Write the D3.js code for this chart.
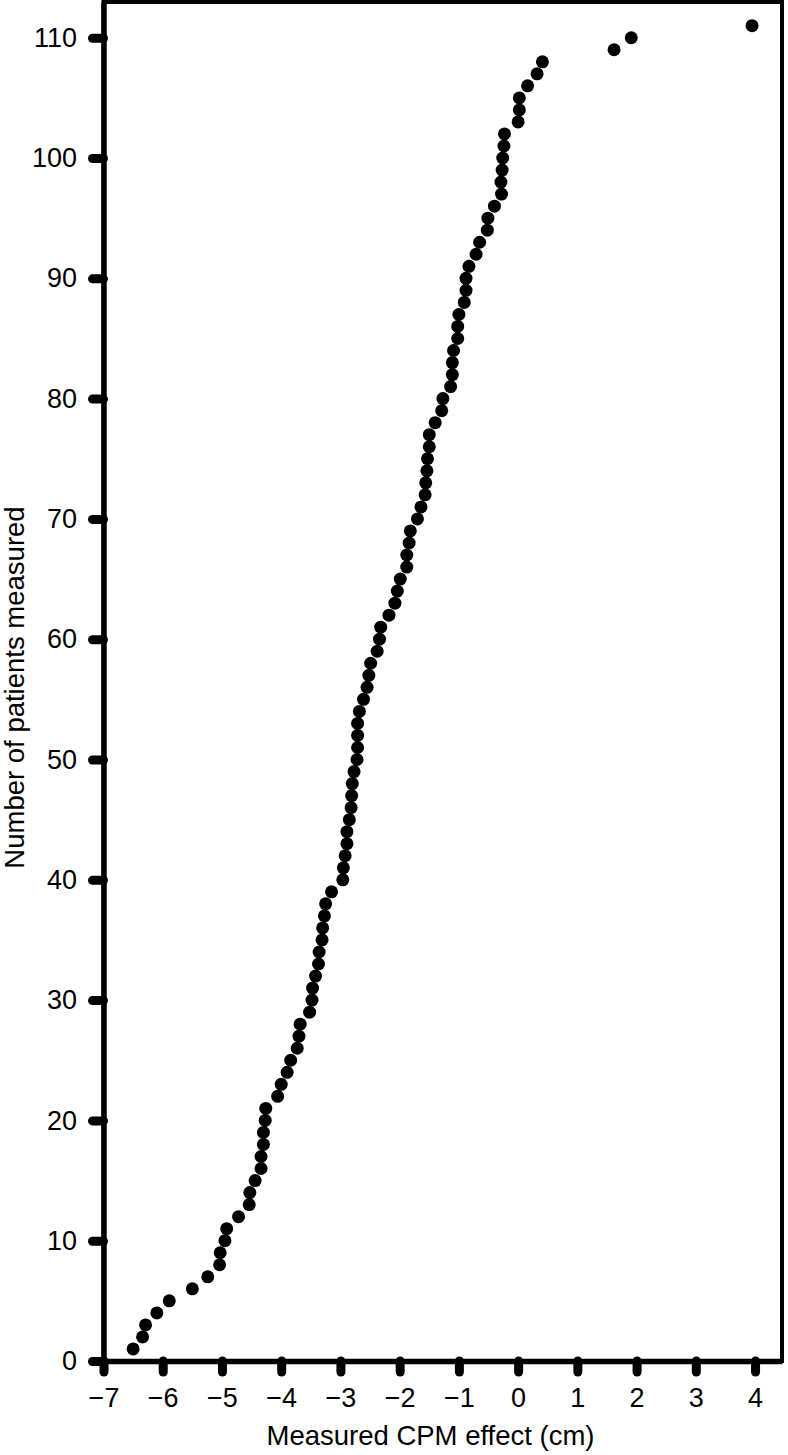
<!DOCTYPE html>
<html>
<head>
<meta charset="utf-8">
<script src="https://cdn.jsdelivr.net/npm/d3@7"></script>
<style>
    body { margin: 0; background: #fff; }
    text { font-family: "Liberation Sans", Arial, Helvetica, sans-serif; fill: #000; }
</style>
</head>
<body>
<svg id="chart"></svg>
<script>
// patient number (1..111) and measured CPM effect in cm
const patients = d3.range(1, 112);
const cpmEffect = [
    -6.50, -6.34, -6.29, -6.10, -5.89, -5.50, -5.24, -5.04, -5.03, -4.95,
    -4.92, -4.72, -4.54, -4.53, -4.44, -4.34, -4.34, -4.30, -4.30, -4.27,
    -4.26, -4.06, -4.00, -3.90, -3.84, -3.73, -3.70, -3.68, -3.52, -3.48,
    -3.47, -3.42, -3.37, -3.36, -3.31, -3.30, -3.27, -3.25, -3.15, -2.96,
    -2.95, -2.92, -2.89, -2.89, -2.85, -2.82, -2.81, -2.80, -2.77, -2.72,
    -2.71, -2.71, -2.71, -2.68, -2.61, -2.55, -2.52, -2.49, -2.38, -2.34,
    -2.32, -2.18, -2.08, -2.04, -1.99, -1.88, -1.88, -1.84, -1.82, -1.70,
    -1.64, -1.57, -1.56, -1.54, -1.53, -1.50, -1.50, -1.40, -1.29, -1.27,
    -1.14, -1.11, -1.11, -1.09, -1.02, -1.02, -1.00, -0.91, -0.88, -0.88,
    -0.83, -0.71, -0.65, -0.52, -0.51, -0.40, -0.28, -0.29, -0.27, -0.26,
    -0.24, -0.23, 0.00, 0.02, 0.02, 0.16, 0.32, 0.41, 1.62, 1.91,
    3.95
];
const xTicks = [-7, -6, -5, -4, -3, -2, -1, 0, 1, 2, 3, 4];
const yTicks = [0, 10, 20, 30, 40, 50, 60, 70, 80, 90, 100, 110];
const xLabel = "Measured CPM effect (cm)";
const yLabel = "Number of patients measured";

class DotPlot {
    margin = {
        top: 2, right: 6, bottom: 94, left: 103.5
    }

    constructor(svg, width=788, height=1455){
        this.svg = d3.select(svg);
        this.width = width - this.margin.left - this.margin.right;
        this.height = height - this.margin.top - this.margin.bottom;
        this.svg.attr("width", width).attr("height", height);
    }

    draw(){
        const data = patients.map((p, i) => ({n: p, x: cpmEffect[i]}));

        // axis extends a little beyond the last tick on the right and top
        const xScale = d3.scaleLinear().domain([-7, 4.455]).range([0, this.width]);
        const yScale = d3.scaleLinear().domain([0, 112.97]).range([this.height, 0]);

        const g = this.svg.append("g")
            .attr("transform", `translate(${this.margin.left}, ${this.margin.top})`);

        // frame (top and right sides)
        g.append("rect")
            .attr("x", 0)
            .attr("y", 0)
            .attr("width", this.width)
            .attr("height", this.height)
            .attr("fill", "none")
            .attr("stroke", "black")
            .attr("stroke-width", 4);

        const xAxis = g.append("g")
            .attr("transform", `translate(0, ${this.height})`)
            .call(d3.axisBottom(xScale)
                .tickValues(xTicks)
                .tickSizeInner(11)
                .tickSizeOuter(0)
                .tickPadding(15.8)
            );
        const yAxis = g.append("g")
            .call(d3.axisLeft(yScale)
                .tickValues(yTicks)
                .tickSizeInner(11)
                .tickSizeOuter(0)
                .tickPadding(15.5)
            );

        [xAxis, yAxis].forEach(ax => {
            ax.attr("font-family", null);
            ax.select(".domain")
                .attr("stroke-width", 5.5);
            ax.selectAll(".tick line")
                .attr("stroke-width", 9)
                .attr("stroke-linecap", "round");
            ax.selectAll(".tick text")
                .attr("font-size", "27px");
        });

        g.selectAll("circle")
            .data(data)
            .join("circle")
            .attr("cx", d => xScale(d.x))
            .attr("cy", d => yScale(d.n))
            .attr("r", 6.5)
            .attr("fill", "black");

        this.svg.append("text")
            .attr("x", 430.5)
            .attr("y", 1445)
            .attr("text-anchor", "middle")
            .style("font-size", "27.5px")
            .text(xLabel);

        this.svg.append("text")
            .attr("transform", "translate(23.5, 687.5) rotate(-90)")
            .attr("text-anchor", "middle")
            .style("font-size", "27.5px")
            .text(yLabel);
    }
}

const chart = new DotPlot(document.getElementById("chart"));
chart.draw();
</script>
</body>
</html>
